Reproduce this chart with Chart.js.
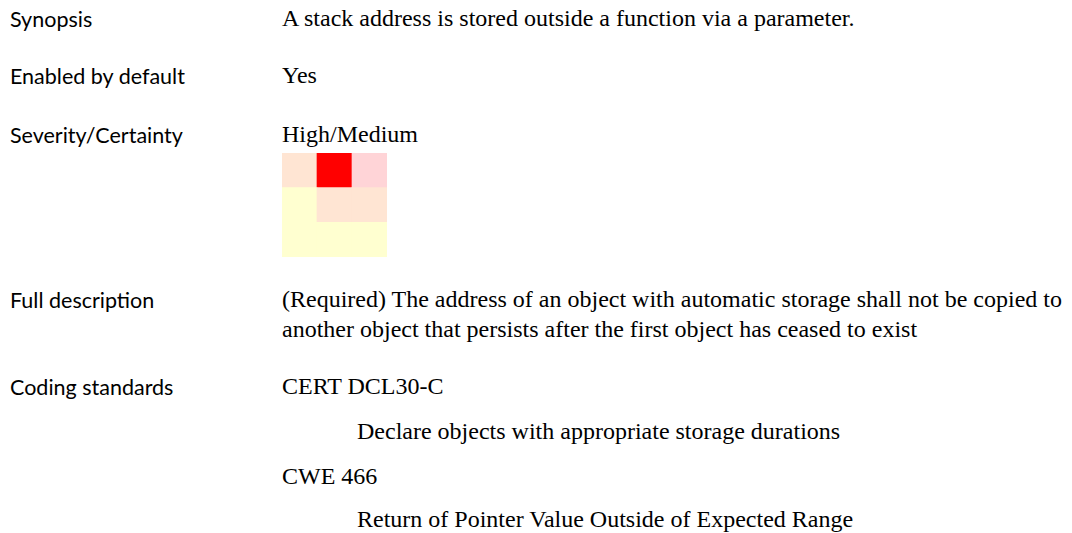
<!DOCTYPE html>
<html>
<head>
<meta charset="utf-8">
<script src="https://cdn.jsdelivr.net/npm/chart.js@4.4.1/dist/chart.umd.min.js"></script>
<style>
  body { margin: 0; background: #fff; width: 1072px; height: 533px; position: relative; overflow: hidden; }
  .t { position: absolute; white-space: nowrap; line-height: 1; color: #000; }
  .lbl { font-family: Lato, "Open Sans", sans-serif; font-size: 21.5px; }
  .val { font-family: "Liberation Serif", "Times New Roman", serif; font-size: 24px; }
  #heat { position: absolute; left: 282px; top: 153px; width: 105px; height: 104px; }
</style>
</head>
<body>
<div id="heat"><canvas id="severity-graph"></canvas></div>
<script>
// heatmap data: columns = certainty, rows = severity (bottom to top)
const certaintyLevels = ['Low', 'Medium', 'High'];
const severityLevels = ['Low', 'Medium', 'High'];
const riskLow = [0, 0, 0];
const riskMedium = [0, 1, 1];
const riskHigh = [1, 2, 2];
const selectedSeverity = 'High';
const selectedCertainty = 'Medium';

const riskColors = ['#ffffd0', '#ffe5d3', '#ffd4d7'];
const selectedColor = '#ff0000';

// text lines: [text, x, baseline, class]
const lines = [
    ['Synopsis', 10, 26, 'lbl'],
    ['A stack address is stored outside a function via a parameter.', 282, 26, 'val'],
    ['Enabled by default', 10, 83, 'lbl'],
    ['Yes', 282, 83, 'val'],
    ['Severity/Certainty', 10, 142, 'lbl'],
    ['High/Medium', 282, 142, 'val'],
    ['Full description', 10, 307, 'lbl'],
    ['(Required) The address of an object with automatic storage shall not be copied to', 282, 307, 'val'],
    ['another object that persists after the first object has ceased to exist', 282, 337, 'val'],
    ['Coding standards', 10, 394, 'lbl'],
    ['CERT DCL30-C', 282, 394, 'val'],
    ['Declare objects with appropriate storage durations', 357, 439, 'val'],
    ['CWE 466', 282, 484, 'val'],
    ['Return of Pointer Value Outside of Expected Range', 357, 527, 'val']
];

lines.forEach(([text, x, base, cls]) => {
    const d = document.createElement('div');
    d.className = 't ' + cls;
    d.textContent = text;
    document.body.appendChild(d);
    // baseline offset for line-height 1
    const k = cls === 'lbl' ? 0.8 : 0.8375;
    const size = parseFloat(getComputedStyle(d).fontSize);
    d.style.left = x + 'px';
    d.style.top = (base - k * size) + 'px';
});

const riskRows = [riskLow, riskMedium, riskHigh];

const ctx = document.getElementById('severity-graph').getContext('2d');
const severityChart = new Chart(ctx, {
    type: 'bar',
    data: {
        labels: certaintyLevels,
        datasets: severityLevels.map((sev, i) => ({
            label: sev,
            data: certaintyLevels.map(() => 1),
            backgroundColor: riskRows[i].map((r, j) =>
                (sev === selectedSeverity && certaintyLevels[j] === selectedCertainty) ? selectedColor : riskColors[r]),
            borderWidth: 0,
            barPercentage: 1,
            categoryPercentage: 1
        }))
    },
    options: {
        responsive: true,
        maintainAspectRatio: false,
        animation: false,
        layout: { padding: 0 },
        plugins: { legend: { display: false }, tooltip: { enabled: false } },
        scales: {
            x: { stacked: true, display: false },
            y: { stacked: true, display: false, min: 0, max: 3 }
        }
    }
});
</script>
</body>
</html>
